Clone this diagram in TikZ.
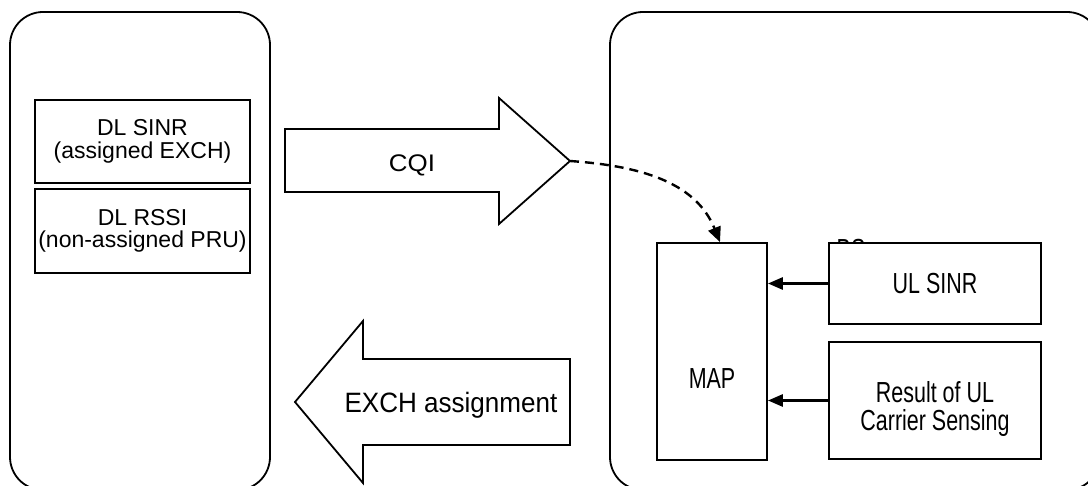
\documentclass[tikz,border=0pt]{standalone}
\usepackage{fontspec}
\setmainfont{Liberation Sans}
\newfontfamily\narrowsans{Liberation Sans}[FakeStretch=0.74]
\newfontfamily\arrowsans{Liberation Sans}[FakeStretch=0.93]
\newfontfamily\widesans{Liberation Sans}[FakeStretch=1.08]
\usetikzlibrary{arrows.meta,positioning,calc}

\begin{document}
\begin{tikzpicture}[x=1pt, y=-1pt,
    station/.style={draw, line width=1.8pt, rounded corners=33pt},
    infobox/.style={draw, line width=1.8pt, fill=white, align=center, inner sep=0pt},
    blockarrow/.style={draw, line width=1.8pt, fill=white},
    msfont/.style={font=\fontsize{23}{22.5}\selectfont},
    bsfont/.style={font=\narrowsans\fontsize{29}{25}\selectfont},
    report/.style={->, >={Triangle[length=15pt,width=12pt]}, line width=2.8pt}]
    \useasboundingbox (0,0) rectangle (1088,486);
    \clip (0,0) rectangle (1088,486);

    % terminal (left) and base station (right)
    \node[station, minimum width=260pt, minimum height=478pt] (ms) at (140,251) {};
    \node[station, minimum width=490pt, minimum height=478pt] (bs) at (855,251) {};

    % measurements at the terminal
    \node[infobox, minimum width=215pt, minimum height=83pt, msfont] (dlsinr) at (142.5,141.5) {DL SINR\\(assigned EXCH)};
    \node[infobox, minimum width=215pt, minimum height=84pt, msfont] (dlrssi) at (142.5,231) {DL RSSI\\(non-assigned PRU)};

    % block arrows
    \draw[blockarrow] (285,129) -- (499,129) -- (499,98) -- (570,161) -- (499,224) -- (499,192) -- (285,192) -- cycle;
    \coordinate (cqitip) at (570,161);
    \node[font=\widesans\fontsize{24}{24}\selectfont] (cqi) at (412,165) {CQI};

    \draw[blockarrow] (570,359) -- (363,359) -- (363,321) -- (295,402) -- (363,483) -- (363,445) -- (570,445) -- cycle;
    \node[font=\arrowsans\fontsize{28}{28}\selectfont] (exch) at (451,405) {EXCH assignment};

    % base station blocks
    \node[anchor=north, inner sep=0pt, bsfont] (bslabel) at (851,239) {BS};
    \node[infobox, minimum width=110pt, minimum height=217pt, bsfont] (map) at (712,351.5) {\raisebox{-27pt}[\height][\depth]{MAP}};
    \node[infobox, minimum width=212pt, minimum height=81pt, bsfont] (ulsinr) at (935,283.5) {UL SINR};
    \node[infobox, minimum width=212pt, minimum height=117pt, bsfont] (result) at (935,400.5) {\raisebox{-9pt}[\height][\depth]{\begin{tabular}{@{}c@{}}Result of UL\\Carrier Sensing\end{tabular}}};

    \draw[report] (ulsinr.west) -- (ulsinr.west -| map.east);
    \draw[report] (result.west) -- (result.west -| map.east);
    \draw[dash pattern=on 9pt off 6pt, line width=2.4pt, -{Triangle[length=15pt,width=13pt]}] (cqitip) to[out=-4, in=112] ([xshift=8pt]map.north);
\end{tikzpicture}
\end{document}
